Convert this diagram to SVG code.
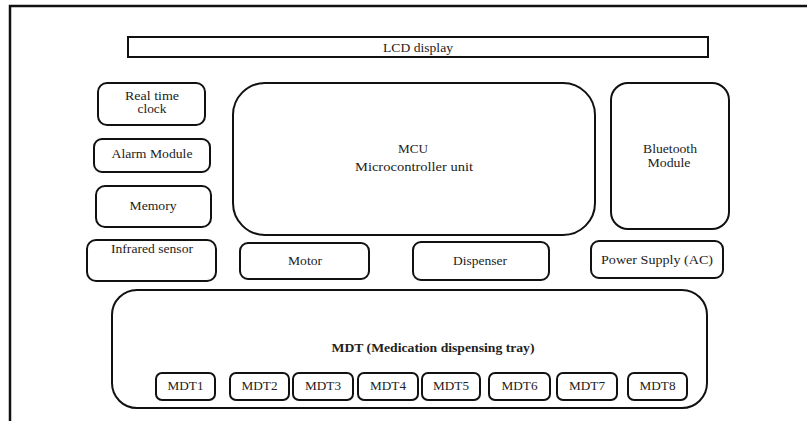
<svg xmlns="http://www.w3.org/2000/svg" width="807" height="421" viewBox="0 0 807 421">
<style>
.b{fill:#fff;stroke:#111;stroke-width:2}
.t{font-family:'Liberation Serif',serif;font-size:11.5px;fill:#222;text-anchor:middle}
.bold{font-weight:bold}
</style>
<rect x="0" y="0" width="807" height="421" fill="#fff"/>
<path d="M10,421 V6 H807" fill="none" stroke="#111" stroke-width="2.5"/>
<g id="connectors"/>
<g id="lcd"><rect class="b" x="128" y="37" width="580" height="20"/><text class="t" x="418" y="52" textLength="70" lengthAdjust="spacingAndGlyphs">LCD display</text></g>
<g id="rtc"><rect class="b" x="98" y="83" width="107" height="42" rx="9"/><text class="t" x="152" y="100" textLength="54" lengthAdjust="spacingAndGlyphs">Real time</text><text class="t" x="152" y="113" textLength="29" lengthAdjust="spacingAndGlyphs">clock</text></g>
<g id="alarm"><rect class="b" x="94" y="139" width="116" height="33" rx="8"/><text class="t" x="152" y="158" textLength="81" lengthAdjust="spacingAndGlyphs">Alarm Module</text></g>
<g id="memory"><rect class="b" x="96" y="186" width="115" height="41" rx="9"/><text class="t" x="153" y="210" textLength="47" lengthAdjust="spacingAndGlyphs">Memory</text></g>
<g id="infrared"><rect class="b" x="87" y="240" width="129" height="41" rx="9"/><text class="t" x="152" y="253" textLength="82" lengthAdjust="spacingAndGlyphs">Infrared sensor</text></g>
<g id="mcu"><rect class="b" x="233" y="83" width="362" height="152" rx="32"/><text class="t" x="413" y="153" textLength="30" lengthAdjust="spacingAndGlyphs">MCU</text><text class="t" x="414" y="171" textLength="118" lengthAdjust="spacingAndGlyphs">Microcontroller unit</text></g>
<g id="bluetooth"><rect class="b" x="611" y="83" width="118" height="146" rx="17"/><text class="t" x="670" y="153" textLength="54" lengthAdjust="spacingAndGlyphs">Bluetooth</text><text class="t" x="669" y="167" textLength="43" lengthAdjust="spacingAndGlyphs">Module</text></g>
<g id="motor"><rect class="b" x="240" y="243" width="129" height="36" rx="8"/><text class="t" x="305" y="265" textLength="34" lengthAdjust="spacingAndGlyphs">Motor</text></g>
<g id="dispenser"><rect class="b" x="413" y="242" width="136" height="38" rx="8"/><text class="t" x="480" y="265" textLength="54" lengthAdjust="spacingAndGlyphs">Dispenser</text></g>
<g id="power"><rect class="b" x="591" y="241" width="132" height="37" rx="8"/><text class="t" x="657" y="264" textLength="112" lengthAdjust="spacingAndGlyphs">Power Supply (AC)</text></g>
<g id="mdt"><rect class="b" x="112" y="290" width="595" height="118" rx="25"/><text class="t bold" x="433" y="352" textLength="203" lengthAdjust="spacingAndGlyphs">MDT (Medication dispensing tray)</text></g>
<g id="mdt1"><rect class="b" x="156" y="373" width="59" height="27" rx="6"/><text class="t" x="185.5" y="390" textLength="36" lengthAdjust="spacingAndGlyphs">MDT1</text></g>
<g id="mdt2"><rect class="b" x="230" y="373" width="59" height="27" rx="6"/><text class="t" x="259.5" y="390" textLength="36" lengthAdjust="spacingAndGlyphs">MDT2</text></g>
<g id="mdt3"><rect class="b" x="293" y="373" width="60" height="27" rx="6"/><text class="t" x="323" y="390" textLength="36" lengthAdjust="spacingAndGlyphs">MDT3</text></g>
<g id="mdt4"><rect class="b" x="358" y="373" width="60" height="27" rx="6"/><text class="t" x="388" y="390" textLength="36" lengthAdjust="spacingAndGlyphs">MDT4</text></g>
<g id="mdt5"><rect class="b" x="422" y="373" width="58" height="27" rx="6"/><text class="t" x="451" y="390" textLength="36" lengthAdjust="spacingAndGlyphs">MDT5</text></g>
<g id="mdt6"><rect class="b" x="489" y="373" width="61" height="27" rx="6"/><text class="t" x="519.5" y="390" textLength="36" lengthAdjust="spacingAndGlyphs">MDT6</text></g>
<g id="mdt7"><rect class="b" x="557" y="373" width="60" height="27" rx="6"/><text class="t" x="587" y="390" textLength="36" lengthAdjust="spacingAndGlyphs">MDT7</text></g>
<g id="mdt8"><rect class="b" x="628" y="373" width="59" height="27" rx="6"/><text class="t" x="657.5" y="390" textLength="36" lengthAdjust="spacingAndGlyphs">MDT8</text></g>
</svg>
